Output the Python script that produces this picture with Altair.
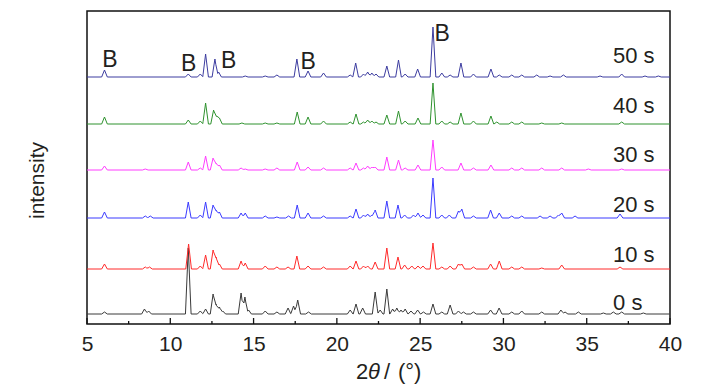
import altair as alt
import pandas as pd

FONT = "Liberation Sans, Arial, sans-serif"
TXT = "#231f20"

x_min, x_max = 5, 40
series = ["0 s", "10 s", "20 s", "30 s", "40 s", "50 s"]
offsets = [10, 55, 106, 154, 200, 247]
colors = ["#3a3a3a", "#ff2a2a", "#3a3aff", "#ff3cff", "#2e922e", "#3c3ca0"]
label_x = 36.58
label_y = [14, 62.3, 112.3, 162.3, 211, 260.7]

peaks_0s = [(6.05, 2), (8.45, 5), (8.7, 3), (11.08, 66), (11.8, 3), (12.12, 5), (12.57, 20), (12.75, 10),
            (12.95, 7), (13.15, 3), (14.25, 21), (14.48, 17), (14.7, 4), (15.7, 3), (16.4, 2), (17.07, 6),
            (17.4, 8), (17.65, 14), (18.3, 2), (20.8, 4), (21.15, 10), (21.55, 6), (22.3, 22), (22.6, 4),
            (23.0, 25), (23.35, 5), (23.6, 6), (23.85, 4), (24.1, 5), (24.45, 3), (24.85, 4), (25.2, 2),
            (25.77, 10), (26.3, 2), (26.8, 9), (27.3, 3), (27.6, 2), (28.2, 2), (29.23, 4), (29.74, 6),
            (30.5, 2), (31.1, 3), (32.3, 2), (33.45, 4), (33.7, 2), (34.5, 2), (36.0, 1), (36.6, 2),
            (37.1, 2), (38.4, 1)]
peaks_10s = [(6.05, 5), (8.5, 2), (8.75, 2), (11.1, 25), (11.8, 3), (12.12, 14), (12.57, 19), (12.75, 12),
             (12.95, 5), (14.25, 8), (14.5, 6), (15.7, 3), (16.4, 2), (17.07, 2), (17.6, 13), (18.27, 3),
             (19.2, 2), (20.8, 3), (21.15, 8), (21.6, 3), (21.85, 3), (22.3, 7), (23.0, 21), (23.67, 12),
             (24.07, 4), (24.5, 3), (24.87, 3), (25.17, 3), (25.77, 26), (26.3, 2), (26.8, 3), (27.3, 5),
             (27.5, 5), (28.2, 2), (29.23, 5), (29.75, 8), (30.5, 2), (31.1, 2), (32.3, 1), (33.5, 4),
             (37.0, 2)]
peaks_20s = [(6.05, 6), (8.5, 2), (8.8, 2), (11.08, 16), (11.8, 3), (12.12, 16), (12.57, 13), (12.75, 8),
             (12.95, 6), (14.25, 5), (14.5, 5), (15.7, 2), (16.4, 1), (17.1, 2), (17.62, 13), (18.27, 5),
             (19.2, 2), (20.8, 2), (21.15, 9), (21.6, 3), (21.85, 4), (22.1, 3), (22.3, 8), (23.0, 17),
             (23.67, 13), (24.07, 3), (24.6, 3), (24.87, 5), (25.17, 3), (25.77, 40), (26.3, 3), (26.75, 3),
             (27.3, 7), (27.5, 9), (28.2, 2), (29.23, 8), (29.75, 5), (30.5, 2), (31.1, 2), (32.2, 2),
             (32.8, 2), (33.3, 3), (33.5, 5), (34.3, 2), (37.0, 4)]
peaks_30s = [(6.05, 4), (8.5, 1), (11.08, 8), (11.8, 2), (12.12, 14), (12.57, 12), (12.75, 7), (12.95, 5),
             (14.25, 2), (14.5, 1), (15.7, 1), (16.4, 2), (17.62, 8), (18.27, 3), (19.2, 2), (20.8, 2),
             (21.15, 7), (21.6, 2), (21.85, 4), (22.1, 3), (22.3, 3), (23.0, 13), (23.7, 10), (24.1, 2),
             (24.87, 5), (25.77, 30), (26.3, 3), (27.45, 7), (28.2, 2), (29.25, 5), (30.5, 2), (31.1, 2),
             (32.3, 2), (33.5, 2), (35.1, 1), (37.1, 1)]
peaks_40s = [(6.05, 7), (11.08, 4), (11.8, 3), (12.12, 21), (12.6, 14), (12.78, 8), (12.95, 6), (14.3, 1),
             (15.7, 1), (16.4, 1), (17.62, 12), (18.27, 7), (19.2, 3), (20.8, 2), (21.15, 10), (21.6, 2),
             (21.85, 4), (22.1, 3), (22.35, 2), (23.0, 9), (23.7, 13), (24.1, 3), (24.87, 6), (25.77, 41),
             (26.3, 3), (26.8, 2), (27.45, 11), (28.2, 3), (29.25, 8), (29.6, 2), (30.5, 2), (31.1, 2),
             (32.3, 1), (33.5, 1), (37.1, 2)]
peaks_50s = [(6.05, 7), (11.08, 3), (11.8, 3), (12.12, 23), (12.68, 18), (12.9, 5), (14.5, 1), (15.7, 1),
             (16.4, 2), (17.6, 18), (18.27, 6), (19.2, 4), (20.8, 2), (21.13, 14), (21.6, 3), (21.85, 5),
             (22.1, 4), (22.35, 3), (23.0, 11), (23.7, 17), (24.1, 3), (24.85, 8), (25.77, 50), (26.3, 4),
             (26.8, 2), (27.45, 14), (28.2, 3), (29.25, 8), (29.75, 2), (30.5, 2), (31.1, 2), (32.0, 2),
             (32.8, 1), (33.6, 2), (35.8, 1), (37.1, 3), (38.5, 1), (39.3, 1)]
all_peaks = [peaks_0s, peaks_10s, peaks_20s, peaks_30s, peaks_40s, peaks_50s]
half_width = 0.17

b_x = [6.38, 11.1, 13.51, 18.28, 26.33]
b_y = [257, 253, 256, 255, 283]

major_ticks = [5, 10, 15, 20, 25, 30, 35, 40]
minor_ticks = [7.5, 12.5, 17.5, 22.5, 27.5, 32.5, 37.5]

# build trace table (peak vertices on each baseline)
rows = []
for name, off, peaks in zip(series, offsets, all_peaks):
    xs = {x_min, x_max}
    for p, h in peaks:
        xs.update([p - half_width, p, p + half_width])
    for i, x in enumerate(sorted(xs)):
        v = 0.0
        for p, h in peaks:
            d = abs(x - p)
            if d < half_width:
                v = max(v, h * (1 - d / half_width))
        rows.append({"series": name, "x": x, "y": off + v, "i": i})
df = pd.DataFrame(rows)

ticks_df = pd.DataFrame(
    [{"x": t, "y": 0, "y2": 6} for t in major_ticks] + [{"x": t, "y": 0, "y2": 3} for t in minor_ticks]
)
lab_df = pd.DataFrame({"x": [label_x] * 6, "y": label_y, "t": series})
b_df = pd.DataFrame({"x": b_x, "y": b_y, "t": ["B"] * len(b_x)})


def X():
    return alt.X("x:Q", scale=alt.Scale(domain=[x_min, x_max], nice=False, zero=False),
                 axis=alt.Axis(values=major_ticks, title=None, ticks=False, domain=False, grid=False,
                               labelFontSize=21, labelFont=FONT, labelColor=TXT, labelPadding=9,
                               labelFlush=False, tickSize=0))


def Y():
    return alt.Y("y:Q", scale=alt.Scale(domain=[0, 313], nice=False, zero=False),
                 axis=alt.Axis(title="intensity", labels=False, ticks=False, domain=False, grid=False,
                               titleFontSize=21, titleFont=FONT, titleColor=TXT, titleFontWeight="normal",
                               titleX=-40, titleY=169, titleAngle=-90, titleBaseline="bottom",
                               titleAlign="center"))


lines = alt.Chart(df).mark_line(strokeWidth=1).encode(
    x=X(), y=Y(),
    color=alt.Color("series:N", scale=alt.Scale(domain=series, range=colors), legend=None),
    order="i:Q",
)

tick_rules = alt.Chart(ticks_df).mark_rule(color="#111", strokeWidth=1.3).encode(
    x=X(), y=Y(), y2="y2:Q"
)

time_labels = alt.Chart(lab_df).mark_text(
    align="left", baseline="alphabetic", font=FONT, fontSize=22, color=TXT
).encode(x=X(), y=Y(), text="t:N")

b_labels = alt.Chart(b_df).mark_text(
    align="center", baseline="alphabetic", font=FONT, fontSize=23, color=TXT
).encode(x=X(), y=Y(), text="t:N")


def title_part(txt, px, italic=False):
    kw = dict(align="left", baseline="alphabetic", font=FONT, fontSize=22, color=TXT)
    if italic:
        kw["fontStyle"] = "italic"
    return alt.Chart(pd.DataFrame({"t": [txt]})).mark_text(**kw).encode(
        text="t:N", x=alt.value(px), y=alt.value(368)
    )


xtitle = title_part("2", 269) + title_part("θ", 281, True) + title_part("/", 297) + title_part("(°)", 311)

chart = alt.layer(lines, tick_rules, time_labels, b_labels, xtitle).properties(
    width=583, height=313,
    autosize=alt.AutoSizeParams(type="none"),
    padding={"left": 79, "top": 3, "right": 40, "bottom": 64},
).configure_view(stroke="#111", strokeWidth=1.5)

chart.save("out.html", embed_options={"renderer": "svg", "actions": False})
